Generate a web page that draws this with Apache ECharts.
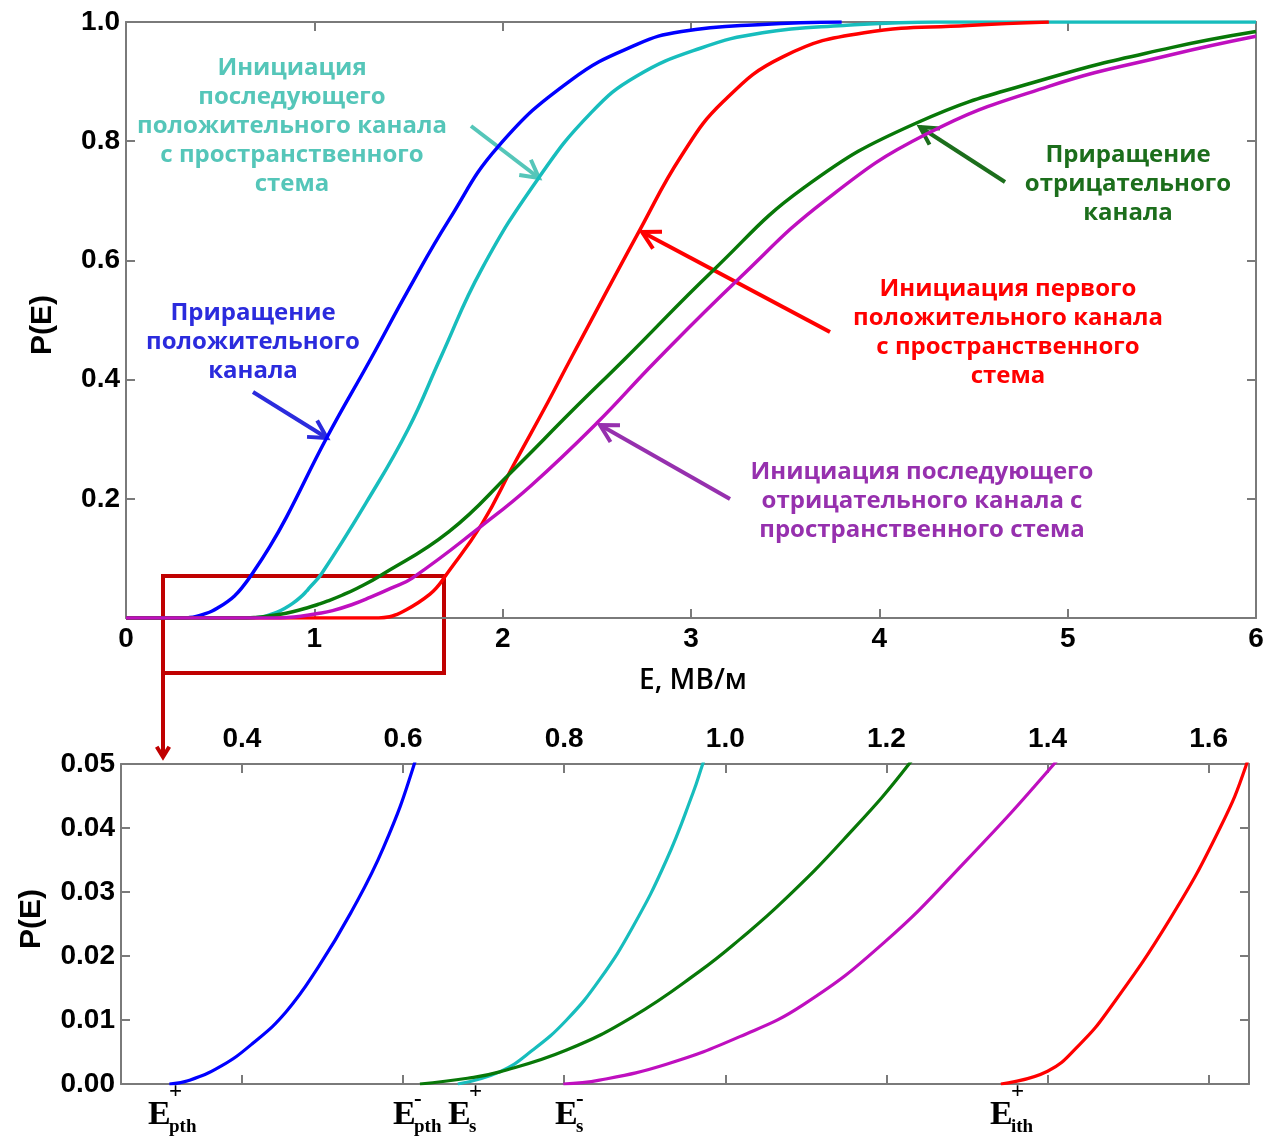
<!DOCTYPE html>
<html><head><meta charset="utf-8">
<script src="https://cdn.jsdelivr.net/npm/echarts@6/dist/echarts.min.js"></script>
<style>html,body{margin:0;padding:0;background:#fff}#c{width:1278px;height:1140px}</style>
</head><body><div id="c"></div>
<script>
// ---- data (E in MV/m, P(E)) ----
const blueE = [0.31,0.333,0.373,0.414,0.455,0.495,0.535,0.576,0.614,0.674,0.76,0.85,1.065,1.30,1.50,1.715,1.976,2.365,2.71,2.95,3.38,3.8];
const blueP = [0,0.0005,0.0027,0.0064,0.0113,0.0183,0.0267,0.037,0.05,0.076,0.118,0.168,0.302,0.435,0.551,0.668,0.791,0.903,0.962,0.984,0.996,1.0];
const cyanE = [0.668,0.72,0.761,0.803,0.844,0.885,0.927,0.96,0.972,1.04,1.28,1.50,1.672,1.888,2.19,2.47,2.71,3.05,3.38,3.81,4.3,6.0];
const cyanP = [0,0.0019,0.0053,0.01,0.0163,0.0245,0.035,0.0455,0.05,0.075,0.196,0.318,0.438,0.585,0.738,0.848,0.909,0.956,0.982,0.994,1.0,1.0];
const redE = [1.342,1.40,1.44,1.476,1.553,1.614,1.647,1.69,1.89,2.06,2.24,2.37,2.73,2.95,3.17,3.49,3.92,4.47,4.9];
const redP = [0,0.002,0.0062,0.0116,0.026,0.040,0.05,0.068,0.158,0.258,0.362,0.44,0.652,0.776,0.866,0.942,0.982,0.994,1.0];
const greenE = [0.621,0.68,0.72,0.803,0.885,0.968,1.018,1.072,1.147,1.228,1.35,1.715,2.04,2.37,2.65,3.12,3.60,4.20,4.90,5.55,6.0];
const greenP = [0,0.0009,0.0019,0.0053,0.0105,0.0176,0.0226,0.0286,0.0382,0.05,0.071,0.145,0.243,0.348,0.435,0.584,0.722,0.831,0.906,0.957,0.984];
const magE = [0.799,0.844,0.927,1.018,1.097,1.198,1.299,1.408,1.52,1.89,2.15,2.50,2.81,3.25,3.71,4.25,4.90,5.55,6.0];
const magP = [0,0.0006,0.0031,0.0074,0.0124,0.0222,0.0349,0.05,0.067,0.155,0.222,0.327,0.43,0.568,0.7,0.812,0.892,0.945,0.976];

const topXTicks = [0,1,2,3,4,5,6];
const topYTicks = [0,0.2,0.4,0.6,0.8,1.0];
const topYLabels = [0.2,0.4,0.6,0.8,1.0];
const botXTicks = [0.4,0.6,0.8,1.0,1.2,1.4,1.6];
const botYTicks = [0,0.01,0.02,0.03,0.04,0.05];

const curves = [
  {name:'Инициация последующего положительного канала', E:cyanE, P:cyanP, color:'#17BDBD'},
  {name:'Приращение положительного канала', E:blueE, P:blueP, color:'#0000FF'},
  {name:'Инициация первого положительного канала', E:redE, P:redP, color:'#FF0000'},
  {name:'Приращение отрицательного канала', E:greenE, P:greenP, color:'#087808'},
  {name:'Инициация последующего отрицательного канала', E:magE, P:magP, color:'#BF0FBF'}
];

const zip = (E,P) => E.map((e,i)=>[e,P[i]]);
const axisLineStyle = {color:'#7a7a7a', width:2};
const tickFont = {fontFamily:'"Liberation Sans", Arial, sans-serif', fontWeight:'bold', fontSize:28, color:'#000'};

const series = [];
curves.forEach(c => {
  series.push({type:'line', name:c.name, xAxisIndex:0, yAxisIndex:0, data:[[0,0]].concat(zip(c.E,c.P)),
    showSymbol:false, smooth:0.45, lineStyle:{color:c.color, width:3.5}, itemStyle:{color:c.color}, clip:true, silent:true});
  series.push({type:'line', name:c.name+' (0–0.05)', xAxisIndex:2, yAxisIndex:2, data:zip(c.E,c.P),
    showSymbol:false, smooth:0.45, lineStyle:{color:c.color, width:3.2}, itemStyle:{color:c.color}, clip:true, silent:true});
});

function arrow(x1,y1,x2,y2,color,w,len,half){
  const a = Math.atan2(y2-y1,x2-x1)+Math.PI;
  const p1=[x2+len*Math.cos(a-half), y2+len*Math.sin(a-half)];
  const p2=[x2+len*Math.cos(a+half), y2+len*Math.sin(a+half)];
  return [
    {type:'line', silent:true, shape:{x1,y1,x2,y2}, style:{stroke:color, lineWidth:w, lineCap:'butt'}},
    {type:'polyline', silent:true, shape:{points:[p1,[x2,y2],p2]}, style:{stroke:color, lineWidth:w, fill:null, lineJoin:'miter', lineCap:'butt'}}
  ];
}
const annFont = 'bold 24px "Open Sans", "Noto Sans", sans-serif';
function block(x,y,text,color){
  return {type:'text', silent:true, x, y, style:{text, fill:color, font:annFont, align:'center', verticalAlign:'middle', lineHeight:29}};
}
const serif = '"Liberation Serif", "Times New Roman", serif';
function eLabel(x, sign, sub, signY){
  return [
    {type:'text', silent:true, x, y:1115, style:{text:'E', fill:'#000', font:'bold 34px '+serif, align:'left', verticalAlign:'middle'}},
    {type:'text', silent:true, x:x+21, y:signY, style:{text:sign, fill:'#000', font:'bold 23px '+serif, align:'left', verticalAlign:'middle'}},
    {type:'text', silent:true, x:x+21, y:1127, style:{text:sub, fill:'#000', font:'bold 19px '+serif, align:'left', verticalAlign:'middle'}}
  ];
}

const graphic = [].concat(
  block(292,126.5,'Инициация\nпоследующего\nположительного канала\nс пространственного\nстема','#55C6B9'),
  arrow(471,126,539,178,'#55C6B9',4,20,0.5),
  block(253,342,'Приращение\nположительного\nканала','#2B2BDD'),
  arrow(253,392,327,438,'#2B2BDD',4,20,0.5),
  block(1008,332.5,'Инициация первого\nположительного канала\nс пространственного\nстема','#FF0000'),
  arrow(830,332,642,232,'#FF0000',4,20,0.5),
  block(1128,184,'Приращение\nотрицательного\nканала','#1C6E1C'),
  arrow(1005,182,920,127,'#1C6E1C',4,20,0.5),
  block(922,501,'Инициация последующего\nотрицательного канала с\nпространственного стема','#9630AE'),
  arrow(730,499,600,425,'#9630AE',4,20,0.5),
  [{type:'rect', silent:true, shape:{x:163,y:576,width:281,height:97}, style:{stroke:'#C00000', lineWidth:4, fill:null}}],
  arrow(163,673,163,757,'#C00000',4,12,0.55),
  [{type:'text', silent:true, x:43, y:325, rotation:Math.PI/2, style:{text:'P(E)', fill:'#000', font:'bold 30px "Liberation Sans", Arial, sans-serif', align:'center', verticalAlign:'middle'}},
   {type:'text', silent:true, x:32, y:919, rotation:Math.PI/2, style:{text:'P(E)', fill:'#000', font:'bold 30px "Liberation Sans", Arial, sans-serif', align:'center', verticalAlign:'middle'}},
   {type:'text', silent:true, x:693, y:681, style:{text:'E, МВ/м', fill:'#000', font:'600 28px "Open Sans", "Noto Sans", sans-serif', align:'center', verticalAlign:'middle'}}],
  eLabel(148,'+','pth',1092),
  eLabel(393,'-','pth',1100),
  eLabel(448,'+','s',1092),
  eLabel(555,'-','s',1100),
  eLabel(990,'+','ith',1092)
);

function xAx(grid, pos, min, max, ticks, labels, fmt, margin){
  return {type:'value', gridIndex:grid, position:pos, min, max,
    axisLine:{show:true, onZero:false, lineStyle:axisLineStyle},
    axisTick:{show:true, inside:true, length:9, customValues:ticks, lineStyle:axisLineStyle},
    axisLabel:{show:!!labels, customValues:ticks, margin:margin||8, formatter:fmt, ...tickFont},
    splitLine:{show:false}};
}
function yAx(grid, pos, min, max, ticks, labelVals, fmt, show){
  return {type:'value', gridIndex:grid, position:pos, min, max,
    axisLine:{show:true, onZero:false, lineStyle:axisLineStyle},
    axisTick:{show:true, inside:true, length:9, customValues:ticks, lineStyle:axisLineStyle},
    axisLabel:{show:show, customValues:labelVals, margin:6, formatter:fmt, ...tickFont},
    splitLine:{show:false}};
}

const option = {
  animation:false,
  backgroundColor:'#fff',
  grid:[
    {left:126, top:22, width:1130, height:596, show:false},
    {left:121, top:764, width:1128, height:320, show:false}
  ],
  xAxis:[
    xAx(0,'bottom',0,6,topXTicks,true,v=>String(v),7),
    xAx(0,'top',0,6,topXTicks,false,v=>String(v)),
    xAx(1,'top',0.25,1.65,botXTicks,true,v=>v.toFixed(1),11),
    xAx(1,'bottom',0.25,1.65,botXTicks,false,v=>v.toFixed(1))
  ],
  yAxis:[
    yAx(0,'left',0,1,topYTicks,topYLabels,v=>v.toFixed(1),true),
    yAx(0,'right',0,1,topYTicks,topYLabels,v=>v.toFixed(1),false),
    yAx(1,'left',0,0.05,botYTicks,botYTicks,v=>v.toFixed(2),true),
    yAx(1,'right',0,0.05,botYTicks,botYTicks,v=>v.toFixed(2),false)
  ],
  series,
  graphic
};
const chart = echarts.init(document.getElementById('c'), null, {renderer:'canvas'});
chart.setOption(option);
</script>
</body></html>
